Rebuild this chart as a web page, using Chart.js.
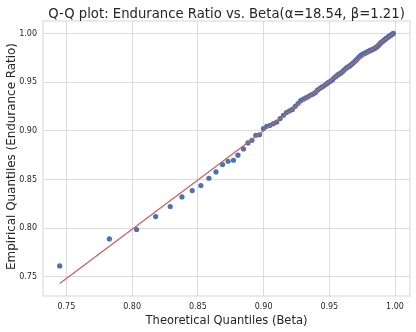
<!DOCTYPE html>
<html>
<head>
<meta charset="utf-8">
<script src="https://cdn.jsdelivr.net/npm/chart.js@4.4.1/dist/chart.umd.min.js"></script>
<style>
  html, body { margin: 0; padding: 0; background: #ffffff; }
  #wrap { width: 416px; height: 332px; }
</style>
</head>
<body>
<div id="wrap"><canvas id="c" width="416" height="332"></canvas></div>
<script>
// ---- Data ----
const titleText = "Q-Q plot: Endurance Ratio vs. Beta(\u03b1=18.54, \u03b2=1.21)";
const xAxisLabel = "Theoretical Quantiles (Beta)";
const yAxisLabel = "Empirical Quantiles (Endurance Ratio)";

const xTicks = [0.75, 0.80, 0.85, 0.90, 0.95, 1.00];
const yTicks = [0.75, 0.80, 0.85, 0.90, 0.95, 1.00];

// Theoretical quantiles (x)
const theoretical = [
  0.7449, 0.7827, 0.8034, 0.8179, 0.8290, 0.8379, 0.8457, 0.8523, 0.8584, 0.8638,
  0.8688, 0.8730, 0.8771, 0.8805, 0.8847, 0.8881, 0.8911, 0.8941, 0.8969, 0.8999,
  0.9024, 0.9050, 0.9075, 0.9100, 0.9126, 0.9151, 0.9174, 0.9197, 0.9219, 0.9241,
  0.9262, 0.9282, 0.9302, 0.9321, 0.9340, 0.9358, 0.9376, 0.9393, 0.9410, 0.9426,
  0.9442, 0.9457, 0.9472, 0.9486, 0.9500, 0.9513, 0.9526, 0.9539, 0.9552, 0.9564,
  0.9576, 0.9588, 0.9600, 0.9611, 0.9622, 0.9633, 0.9644, 0.9655, 0.9665, 0.9675,
  0.9685, 0.9695, 0.9705, 0.9714, 0.9723, 0.9732, 0.9741, 0.9750, 0.9759, 0.9768,
  0.9776, 0.9784, 0.9792, 0.9800, 0.9808, 0.9816, 0.9824, 0.9832, 0.9839, 0.9846,
  0.9853, 0.9860, 0.9867, 0.9874, 0.9881, 0.9888, 0.9895, 0.9902, 0.9909, 0.9916,
  0.9923, 0.9930, 0.9937, 0.9944, 0.9951, 0.9958, 0.9965, 0.9972, 0.9979, 0.9987
];
// Empirical quantiles (y)
const empirical = [
  0.7613, 0.7890, 0.7987, 0.8120, 0.8223, 0.8321, 0.8387, 0.8438, 0.8513, 0.8578,
  0.8654, 0.8688, 0.8698, 0.8750, 0.8814, 0.8876, 0.8903, 0.8955, 0.8960, 0.9023,
  0.9047, 0.9057, 0.9075, 0.9090, 0.9126, 0.9160, 0.9188, 0.9205, 0.9220, 0.9252,
  0.9280, 0.9310, 0.9325, 0.9338, 0.9352, 0.9368, 0.9378, 0.9392, 0.9418, 0.9435,
  0.9448, 0.9460, 0.9476, 0.9490, 0.9503, 0.9512, 0.9528, 0.9548, 0.9560, 0.9574,
  0.9584, 0.9594, 0.9608, 0.9622, 0.9637, 0.9649, 0.9658, 0.9667, 0.9678, 0.9690,
  0.9702, 0.9714, 0.9728, 0.9740, 0.9752, 0.9764, 0.9775, 0.9784, 0.9790, 0.9795,
  0.9800, 0.9806, 0.9812, 0.9818, 0.9823, 0.9828, 0.9833, 0.9838, 0.9843, 0.9848,
  0.9854, 0.9860, 0.9868, 0.9877, 0.9888, 0.9899, 0.9908, 0.9915, 0.9922, 0.9930,
  0.9938, 0.9946, 0.9953, 0.9960, 0.9967, 0.9974, 0.9980, 0.9987, 0.9993, 1.0000
];
// Fitted reference line endpoints
const lineX = [0.7449, 0.9987];
const lineY = [0.7432, 1.0000];

// Axis limits
const xMin = 0.7322, xMax = 1.0114;
const yMin = 0.7304, yMax = 1.0128;

// ---- Build chart ----
const pts = theoretical.map((x, i) => ({ x: x, y: empirical[i] }));
const linePts = lineX.map((x, i) => ({ x: x, y: lineY[i] }));

const GRID = '#dcdcdc';
const TXT = '#262626';
const FONT = "'DejaVu Sans', sans-serif";

const PLOT = { left: 43, right: 410, top: 21, bottom: 296 };

function fitFont(ctx, text, targetW) {
  ctx.font = "20px " + FONT;
  const w = ctx.measureText(text).width;
  const size = 20 * targetW / w;
  ctx.font = size.toFixed(2) + "px " + FONT;
}

const decor = {
  id: 'decor',
  afterDraw(chart) {
    const ctx = chart.ctx;
    const a = chart.chartArea;
    ctx.save();
    // frame
    ctx.strokeStyle = GRID;
    ctx.lineWidth = 1.2;
    ctx.strokeRect(a.left, a.top, a.right - a.left, a.bottom - a.top);
    // title
    ctx.fillStyle = TXT;
    ctx.textAlign = 'center';
    ctx.textBaseline = 'alphabetic';
    fitFont(ctx, titleText, 357);
    ctx.fillText(titleText, (a.left + a.right) / 2, 17.5);
    // x label
    fitFont(ctx, xAxisLabel, 162);
    ctx.fillText(xAxisLabel, (a.left + a.right) / 2, 324);
    // y label
    fitFont(ctx, yAxisLabel, 227);
    ctx.translate(15, 156.5);
    ctx.rotate(-Math.PI / 2);
    ctx.fillText(yAxisLabel, 0, 0);
    ctx.restore();
  }
};

new Chart(document.getElementById('c'), {
  type: 'scatter',
  data: {
    datasets: [
      {
        type: 'line',
        data: linePts,
        borderColor: '#d35a5a',
        borderWidth: 1.2,
        pointRadius: 0,
        fill: false,
        order: 0
      },
      {
        type: 'scatter',
        data: pts,
        backgroundColor: '#4c72b0',
        borderColor: '#4c72b0',
        borderWidth: 0,
        pointRadius: 2.6,
        order: 1
      }
    ]
  },
  options: {
    responsive: false,
    animation: false,
    devicePixelRatio: 1,
    layout: { padding: { left: 0, right: 416 - PLOT.right, top: PLOT.top, bottom: 0 } },
    plugins: { legend: { display: false }, tooltip: { enabled: false }, title: { display: false } },
    scales: {
      x: {
        type: 'linear',
        min: xMin, max: xMax,
        afterBuildTicks(s) { s.ticks = xTicks.map(v => ({ value: v })); },
        afterFit(s) { s.height = 332 - PLOT.bottom; },
        grid: { color: GRID, lineWidth: 1, drawTicks: false },
        border: { display: false },
        ticks: {
          color: TXT, font: { family: FONT, size: 8 }, padding: 6,
          callback: v => Number(v).toFixed(2), maxRotation: 0, autoSkip: false
        }
      },
      y: {
        type: 'linear',
        min: yMin, max: yMax,
        afterBuildTicks(s) { s.ticks = yTicks.map(v => ({ value: v })); },
        afterFit(s) { s.width = PLOT.left; },
        grid: { color: GRID, lineWidth: 1, drawTicks: false },
        border: { display: false },
        ticks: {
          color: TXT, font: { family: FONT, size: 8 }, padding: 6,
          callback: v => Number(v).toFixed(2), autoSkip: false
        }
      }
    }
  },
  plugins: [decor]
});
</script>
</body>
</html>
